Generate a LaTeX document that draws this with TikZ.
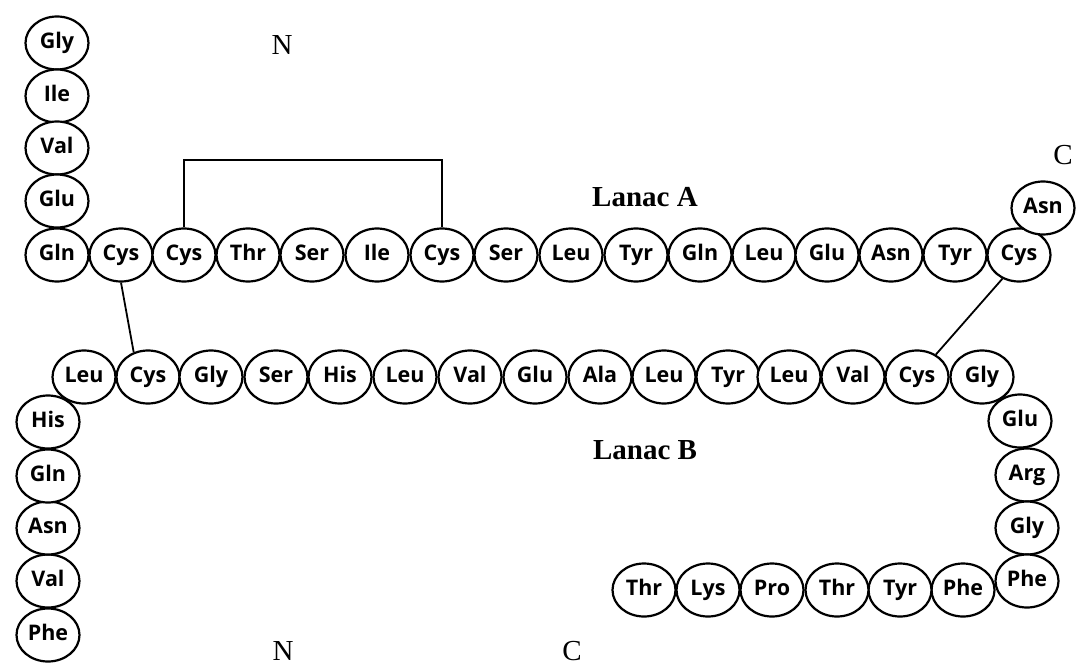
\documentclass[tikz,border=0pt]{standalone}
\usepackage{fontspec}
\setmainfont{Liberation Serif}
\newfontfamily\aafont{Open Sans}
\usetikzlibrary{shapes.geometric}
\begin{document}
\begin{tikzpicture}[x=1pt,y=-1pt,
  aa/.style={ellipse,draw,line width=2.2pt,fill=white,minimum width=63pt,minimum height=53pt,inner sep=0pt,text height=15pt,text depth=4pt,font=\aafont\bfseries\fontsize{21.5}{21.5}\selectfont},
  term/.style={font=\fontsize{29}{29}\selectfont},
  chainlbl/.style={font=\bfseries\fontsize{29}{29}\selectfont},
  bond/.style={line width=1.8pt}]
\useasboundingbox (0,0) rectangle (1078,666);
% Chain A
\node[aa] (a1) at (57,43) {Gly};
\node[aa] (a2) at (57,96) {Ile};
\node[aa] (a3) at (57,148) {Val};
\node[aa] (a4) at (57,201) {Glu};
\node[aa] (a5) at (57,255) {Gln};
\node[aa] (a6) at (121,255) {Cys};
\node[aa] (a7) at (184,255) {Cys};
\node[aa] (a8) at (248,255) {Thr};
\node[aa] (a9) at (312,255) {Ser};
\node[aa] (a10) at (377,255) {Ile};
\node[aa] (a11) at (442,255) {Cys};
\node[aa] (a12) at (506,255) {Ser};
\node[aa] (a13) at (571,255) {Leu};
\node[aa] (a14) at (636,255) {Tyr};
\node[aa] (a15) at (700,255) {Gln};
\node[aa] (a16) at (764,255) {Leu};
\node[aa] (a17) at (827,255) {Glu};
\node[aa] (a18) at (891,255) {Asn};
\node[aa] (a19) at (955,255) {Tyr};
\node[aa] (a20) at (1019,255) {Cys};
\node[aa] (a21) at (1043,208) {Asn};
% Chain B
\node[aa] (b1) at (48,635) {Phe};
\node[aa] (b2) at (48,581) {Val};
\node[aa] (b3) at (48,528) {Asn};
\node[aa] (b4) at (48,476) {Gln};
\node[aa] (b5) at (48,422) {His};
\node[aa] (b6) at (84,377) {Leu};
\node[aa] (b7) at (148,377) {Cys};
\node[aa] (b8) at (211,377) {Gly};
\node[aa] (b9) at (276,377) {Ser};
\node[aa] (b10) at (340,377) {His};
\node[aa] (b11) at (405,377) {Leu};
\node[aa] (b12) at (470,377) {Val};
\node[aa] (b13) at (535,377) {Glu};
\node[aa] (b14) at (600,377) {Ala};
\node[aa] (b15) at (664,377) {Leu};
\node[aa] (b16) at (728,377) {Tyr};
\node[aa] (b17) at (789,377) {Leu};
\node[aa] (b18) at (853,377) {Val};
\node[aa] (b19) at (917,377) {Cys};
\node[aa] (b20) at (982,377) {Gly};
\node[aa] (b21) at (1020,421) {Glu};
\node[aa] (b22) at (1027,475) {Arg};
\node[aa] (b23) at (1027,528) {Gly};
\node[aa] (b24) at (1027,581) {Phe};
\node[aa] (b25) at (963,590) {Phe};
\node[aa] (b26) at (900,590) {Tyr};
\node[aa] (b27) at (837,590) {Thr};
\node[aa] (b28) at (772,590) {Pro};
\node[aa] (b29) at (708,590) {Lys};
\node[aa] (b30) at (644,590) {Thr};
% disulfide bonds
\coordinate (top) at (0,160);
\draw[bond] (a7.north) -- (a7.north |- top) -| (a11.north);
\draw[bond] (a6.south) -- (b7.120);
\draw[bond] (a20.235) -- (b19.50);
% labels
\node[term] (nA) at (282,45) {N};
\node[term] (cA) at (1063,155) {C};
\node[term] (nB) at (283,651) {N};
\node[term] (cB) at (572,651) {C};
\node[chainlbl] (la) at (645,197) {Lanac A};
\node[chainlbl] (lb) at (645,450) {Lanac B};
\end{tikzpicture}
\end{document}
